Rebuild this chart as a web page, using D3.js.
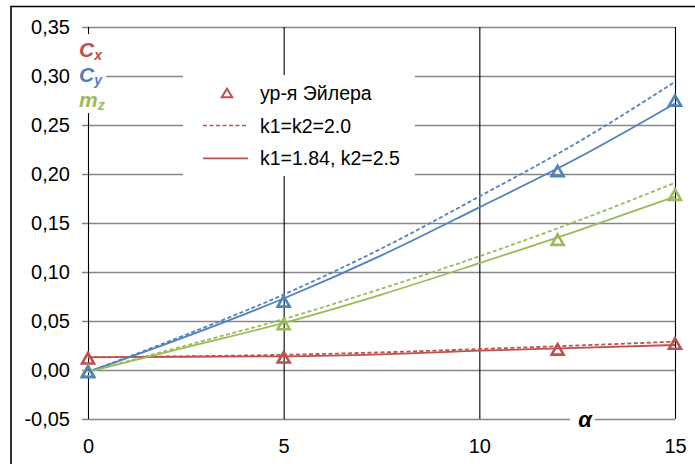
<!DOCTYPE html>
<html>
<head>
<meta charset="utf-8">
<script src="https://cdn.jsdelivr.net/npm/d3@7"></script>
<style>
  html, body { margin: 0; padding: 0; background: #fff; }
  svg { display: block; }
  text { font-family: "Liberation Sans", Arial, sans-serif; }
</style>
</head>
<body>
<svg id="chart" width="695" height="464"></svg>
<script>
// Angle of attack values at which the fitted curves are sampled
const alphaCurve = [0, 2.5, 5, 7.5, 10, 12.5, 15];

// Fitted curves, k1=k2=2.0 (dashed)
const cxDashed = [0.013, 0.014, 0.0155, 0.018, 0.0214, 0.025, 0.029];
const cyDashed = [-0.002, 0.036, 0.077, 0.124, 0.177, 0.232, 0.294];
const mzDashed = [-0.002, 0.025, 0.052, 0.083, 0.116, 0.152, 0.191];

// Fitted curves, k1=1.84, k2=2.5 (solid)
const cxSolid = [0.013, 0.0135, 0.014, 0.016, 0.0197, 0.0225, 0.0255];
const cySolid = [-0.002, 0.034, 0.073, 0.117, 0.166, 0.216, 0.272];
const mzSolid = [-0.002, 0.023, 0.048, 0.077, 0.109, 0.142, 0.177];

// Euler equation solution points
const alphaEuler = [0, 5, 12, 15];
const cxEuler = [0.012, 0.013, 0.021, 0.027];
const cyEuler = [-0.002, 0.070, 0.203, 0.275];
const mzEuler = [-0.001, 0.047, 0.133, 0.179];

// Axis ticks
const xTicks = [0, 5, 10, 15];
const yTicks = [-0.05, 0, 0.05, 0.10, 0.15, 0.20, 0.25, 0.30, 0.35];

const legendLabels = ["ур-я Эйлера", "k1=k2=2.0", "k1=1.84, k2=2.5"];

const colors = { cx: "#C0504D", cy: "#4F81BD", mz: "#9BBB59" };

const svg = d3.select("#chart");

const x = d3.scaleLinear().domain([0, 15]).range([88, 675]);
const y = d3.scaleLinear().domain([-0.05, 0.35]).range([419, 27]);

// Outer frame (top and left edges)
svg.append("path")
  .attr("d", "M11,464 L11,6.5 L695,6.5")
  .attr("fill", "none").attr("stroke", "#000").attr("stroke-width", 1.6);

// Horizontal gridlines with left tick stubs
const yAxis = d3.axisLeft(y).tickValues(yTicks)
  .tickSize(-(x(15) - x(0)) - 6)
  .tickFormat(d => d3.format(".2f")(d).replace(".", ",").replace("−", "-"));
const gy = svg.append("g").attr("transform", `translate(${x(0) - 6},0)`).call(yAxis);
gy.select(".domain").remove();
gy.selectAll(".tick line")
  .attr("x1", 0).attr("x2", x(15) - x(0) + 6)
  .attr("stroke", "#868686").attr("stroke-width", 1.6);
gy.selectAll(".tick text")
  .attr("x", -12)
  .attr("fill", "#000").attr("font-size", 20).attr("font-family", "Liberation Sans, Arial, sans-serif");

// Vertical gridlines (black), including the axis at alpha=0
const xAxis = d3.axisBottom(x).tickValues(xTicks).tickSize(y(-0.05) - y(0.35)).tickFormat(d3.format("d"));
const gx = svg.append("g").attr("transform", `translate(0,${y(0.35)})`).call(xAxis);
gx.select(".domain").remove();
gx.selectAll(".tick line").attr("stroke", "#000").attr("stroke-width", 1.1);
gx.selectAll(".tick text")
  .attr("y", y(-0.05) - y(0.35) + 34)
  .attr("dy", 0)
  .attr("fill", "#000").attr("font-size", 20).attr("font-family", "Liberation Sans, Arial, sans-serif");

// Curves
const line = d3.line().x(d => x(d[0])).y(d => y(d[1])).curve(d3.curveMonotoneX);
const curves = [
  { v: cxDashed, c: colors.cx, dash: "4,2.5" },
  { v: cyDashed, c: colors.cy, dash: "4,2.5" },
  { v: mzDashed, c: colors.mz, dash: "4,2.5" },
  { v: cxSolid, c: colors.cx, dash: null },
  { v: cySolid, c: colors.cy, dash: null },
  { v: mzSolid, c: colors.mz, dash: null }
];
svg.append("g").selectAll("path").data(curves).join("path")
  .attr("d", d => line(alphaCurve.map((a, i) => [a, d.v[i]])))
  .attr("fill", "none")
  .attr("stroke", d => d.c)
  .attr("stroke-width", 1.8)
  .attr("stroke-dasharray", d => d.dash);

// Open triangle markers
function tri(w, h) {
  return `M0,${-h / 2} L${w / 2},${h / 2} L${-w / 2},${h / 2} Z`;
}
const markerSets = [
  { v: cxEuler, c: colors.cx },
  { v: mzEuler, c: colors.mz },
  { v: cyEuler, c: colors.cy }
];
const gm = svg.append("g");
markerSets.forEach(s => {
  gm.selectAll(null).data(alphaEuler.map((a, i) => [a, s.v[i]])).join("path")
    .attr("transform", d => `translate(${x(d[0])},${y(d[1])})`)
    .attr("d", tri(12, 10.5))
    .attr("fill", "none")
    .attr("stroke", s.c)
    .attr("stroke-width", 2.6)
    .attr("stroke-linejoin", "miter");
});

// Legend
const lg = svg.append("g");
lg.append("rect").attr("x", 183).attr("y", 75).attr("width", 232).attr("height", 101).attr("fill", "#fff");
const rowY = [93, 125.5, 158.3];
lg.append("path").attr("transform", `translate(227,${rowY[0]})`).attr("d", tri(10.5, 8.5))
  .attr("fill", "none").attr("stroke", colors.cx).attr("stroke-width", 2);
lg.append("line").attr("x1", 203).attr("x2", 248).attr("y1", rowY[1]).attr("y2", rowY[1])
  .attr("stroke", colors.cx).attr("stroke-width", 1.6).attr("stroke-dasharray", "4,2.5");
lg.append("line").attr("x1", 203).attr("x2", 248).attr("y1", rowY[2]).attr("y2", rowY[2])
  .attr("stroke", colors.cx).attr("stroke-width", 1.8);
lg.selectAll("text.lbl").data(legendLabels).join("text")
  .attr("class", "lbl")
  .attr("x", 260).attr("y", (d, i) => rowY[i] + 7)
  .attr("font-size", 19.5).attr("fill", "#000")
  .text(d => d);

// Coefficient names beside the y axis
const cg = svg.append("g");
cg.append("rect").attr("x", 76).attr("y", 34).attr("width", 30).attr("height", 79).attr("fill", "#fff");
const coefs = [
  { main: "C", sub: "x", c: colors.cx, yb: 57 },
  { main: "C", sub: "y", c: colors.cy, yb: 82 },
  { main: "m", sub: "z", c: colors.mz, yb: 107 }
];
coefs.forEach(k => {
  const t = cg.append("text").attr("x", 79).attr("y", k.yb)
    .attr("fill", k.c).attr("font-weight", "bold").attr("font-style", "italic").attr("font-size", 21);
  t.append("tspan").text(k.main);
  t.append("tspan").attr("font-size", 14).attr("dy", 3).text(k.sub);
});

// Alpha axis title
svg.append("rect").attr("x", 570).attr("y", 412).attr("width", 25).attr("height", 16).attr("fill", "#fff");
svg.append("text").attr("x", 585).attr("y", 427).attr("text-anchor", "middle")
  .attr("font-family", "Liberation Serif, DejaVu Serif, serif")
  .attr("font-weight", "bold").attr("font-style", "italic").attr("font-size", 22)
  .text("α");
</script>
</body>
</html>
